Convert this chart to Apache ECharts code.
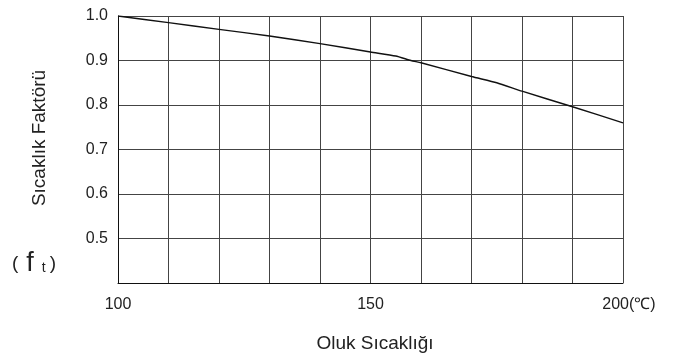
<!DOCTYPE html>
<html>
<head>
<meta charset="utf-8">
<script src="https://cdn.jsdelivr.net/npm/echarts@6/dist/echarts.min.js"></script>
<style>
html,body{margin:0;padding:0;background:#fff;}
#c{width:676px;height:358px;}
</style>
</head>
<body>
<div id="c"></div>
<script>
// Data
const temps = [100, 110, 120, 130, 140, 150, 155, 158, 160, 170, 175, 180, 190, 200];
const factors = [1.0, 0.985, 0.97, 0.955, 0.938, 0.919, 0.91, 0.90, 0.895, 0.864, 0.85, 0.831, 0.796, 0.76];
const xLabeled = [100, 150, 200];
const yLabeled = [0.5, 0.6, 0.7, 0.8, 0.9, 1.0];
const yName = 'Sıcaklık Faktörü';
const xName = 'Oluk Sıcaklığı';
const unit = '(℃)';

const FONT = '"Liberation Sans", Arial, sans-serif';
const TXT = '#222';

const chart = echarts.init(document.getElementById('c'));
chart.setOption({
  animation: false,
  backgroundColor: '#fff',
  grid: { left: 118, top: 16, right: 53, bottom: 75, containLabel: false },
  xAxis: {
    type: 'value', min: 100, max: 200, interval: 10,
    axisLine: { show: true, lineStyle: { color: '#111', width: 1 } },
    axisTick: { show: false },
    splitLine: { show: true, lineStyle: { color: '#444', width: 1 } },
    axisLabel: {
      margin: 14, fontSize: 16, color: TXT, fontFamily: FONT,
      formatter: function (v) {
        if (v === 200) return '{u|' + v + unit + '}';
        return xLabeled.indexOf(v) >= 0 ? String(v) : '';
      },
      rich: { u: { fontSize: 16, color: TXT, fontFamily: FONT, padding: [0, 0, 0, 12] } }
    }
  },
  yAxis: {
    type: 'value', min: 0.4, max: 1.0, interval: 0.1,
    axisLine: { show: true, lineStyle: { color: '#111', width: 1 } },
    axisTick: { show: false },
    splitLine: { show: true, lineStyle: { color: '#444', width: 1 } },
    axisLabel: {
      margin: 10, fontSize: 16, color: TXT, fontFamily: FONT,
      formatter: function (v) {
        const r = Math.round(v * 10) / 10;
        return yLabeled.some(function (t) { return Math.abs(t - r) < 1e-6; }) ? r.toFixed(1) : '';
      }
    }
  },
  series: [{
    type: 'line',
    data: temps.map(function (t, i) { return [t, factors[i]]; }),
    showSymbol: false,
    smooth: 0.2,
    lineStyle: { color: '#111', width: 1.4 }
  }],
  graphic: [
    {
      type: 'text', x: 40, y: 138, rotation: Math.PI / 2,
      style: { text: yName, fontSize: 19, fill: TXT, fontFamily: FONT, align: 'center', verticalAlign: 'middle' }
    },
    {
      type: 'text', x: 375, y: 344,
      style: { text: xName, fontSize: 19, fill: TXT, fontFamily: FONT, align: 'center', verticalAlign: 'middle' }
    },
    {
      type: 'text', x: 34, y: 264,
      style: {
        text: '{p|(}{f|f}{s|t}{q|)}',
        align: 'center', verticalAlign: 'middle',
        rich: {
          p: { fontSize: 19, fill: TXT, fontFamily: FONT },
          f: { fontSize: 27, fill: TXT, fontFamily: FONT, padding: [0, 0, 0, 8] },
          s: { fontSize: 14, fill: TXT, fontFamily: FONT, padding: [8, 0, 0, 8] },
          q: { fontSize: 19, fill: TXT, fontFamily: FONT, padding: [0, 0, 0, 4] }
        }
      }
    }
  ]
});
</script>
</body>
</html>
